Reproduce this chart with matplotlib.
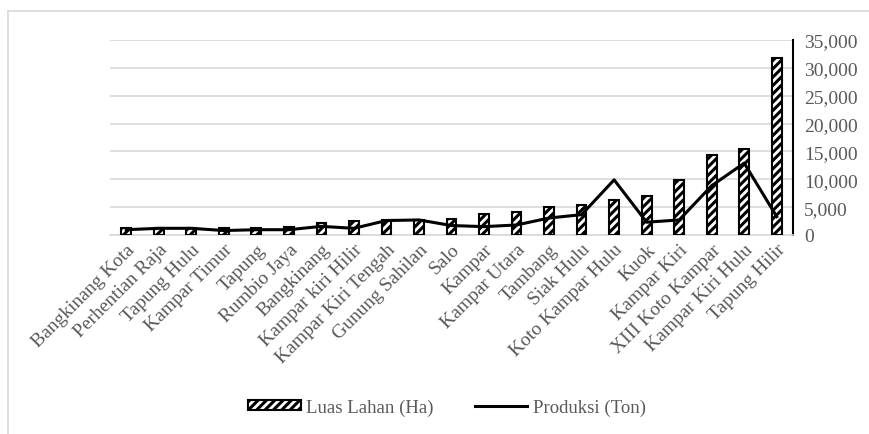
import matplotlib
matplotlib.use("Agg")
from matplotlib import pyplot as plt
from matplotlib.lines import Line2D
import numpy as np

# kecamatan, sorted by luas lahan
kecamatan = ["Bangkinang Kota", "Perhentian Raja", "Tapung Hulu", "Kampar Timur",
             "Tapung", "Rumbio Jaya", "Bangkinang", "Kampar kiri Hilir",
             "Kampar Kiri Tengah", "Gunung Sahilan", "Salo", "Kampar",
             "Kampar Utara", "Tambang", "Siak Hulu", "Koto Kampar Hulu", "Kuok",
             "Kampar Kiri", "XIII Koto Kampar", "Kampar Kiri Hulu", "Tapung Hilir"]
luas_lahan = [1200, 1300, 1300, 1200, 1300, 1400, 2100, 2450, 2700, 2700, 2900,
              3800, 4200, 5100, 5450, 6200, 7050, 9900, 14350, 15400, 31800]
produksi = [950, 1200, 1200, 800, 950, 950, 1550, 1200, 2600, 2700, 1700,
            1500, 1800, 3050, 3650, 9900, 2300, 2700, 8850, 12900, 3300]
y_ticks = [0, 5000, 10000, 15000, 20000, 25000, 30000, 35000]

plt.rcParams['font.family'] = ['Liberation Serif', 'DejaVu Serif']
plt.rcParams['hatch.linewidth'] = 2.2
grey = "#595959"

fig = plt.figure(figsize=(8.69, 4.35), dpi=100)
ax = fig.add_axes([110/869, 1-236/435, (793-110)/869, (236-41)/435])

x = np.arange(len(kecamatan))
bars = ax.bar(x, luas_lahan, width=0.3, color="white", edgecolor="black",
              hatch="////", linewidth=1.5, zorder=3, label="Luas Lahan (Ha)")
line, = ax.plot(x, produksi, color="black", linewidth=2.2, zorder=4,
                label="Produksi (Ton)")

ax.set_xlim(-0.5, len(kecamatan) - 0.5)
ax.set_ylim(0, 35000)
ax.set_yticks(y_ticks)
ax.set_yticklabels([f"{v:,}" for v in y_ticks])
ax.yaxis.tick_right()
ax.tick_params(axis="y", length=0, labelsize=14, labelcolor=grey, pad=8)
ax.set_xticks(x)
ax.set_xticklabels(kecamatan, rotation=45, ha="right", va="top",
                   rotation_mode="anchor")
ax.tick_params(axis="x", length=0, labelsize=14, labelcolor=grey, pad=4)
ax.grid(axis="y", color="#d9d9d9", linewidth=1.2, zorder=0)

for s in ["top", "left"]:
    ax.spines[s].set_visible(False)
ax.spines["right"].set_color("black")
ax.spines["right"].set_linewidth(1.5)
ax.spines["bottom"].set_color("#d9d9d9")
ax.spines["bottom"].set_linewidth(1.2)

fig.legend([bars, line], ["Luas Lahan (Ha)", "Produksi (Ton)"],
           loc="center", bbox_to_anchor=(447/869, 1-408/435), ncol=2,
           frameon=False, fontsize=13.5, labelcolor=grey, handlelength=2.8,
           handleheight=0.45, columnspacing=2.2, handletextpad=0.3)

# chart border
fig.add_artist(Line2D([8/869, 1], [1-12/435, 1-12/435], color="#d9d9d9", lw=1.2))
fig.add_artist(Line2D([8/869, 8/869], [0, 1-12/435], color="#d9d9d9", lw=1.2))

fig.savefig("out.png", dpi=100)
